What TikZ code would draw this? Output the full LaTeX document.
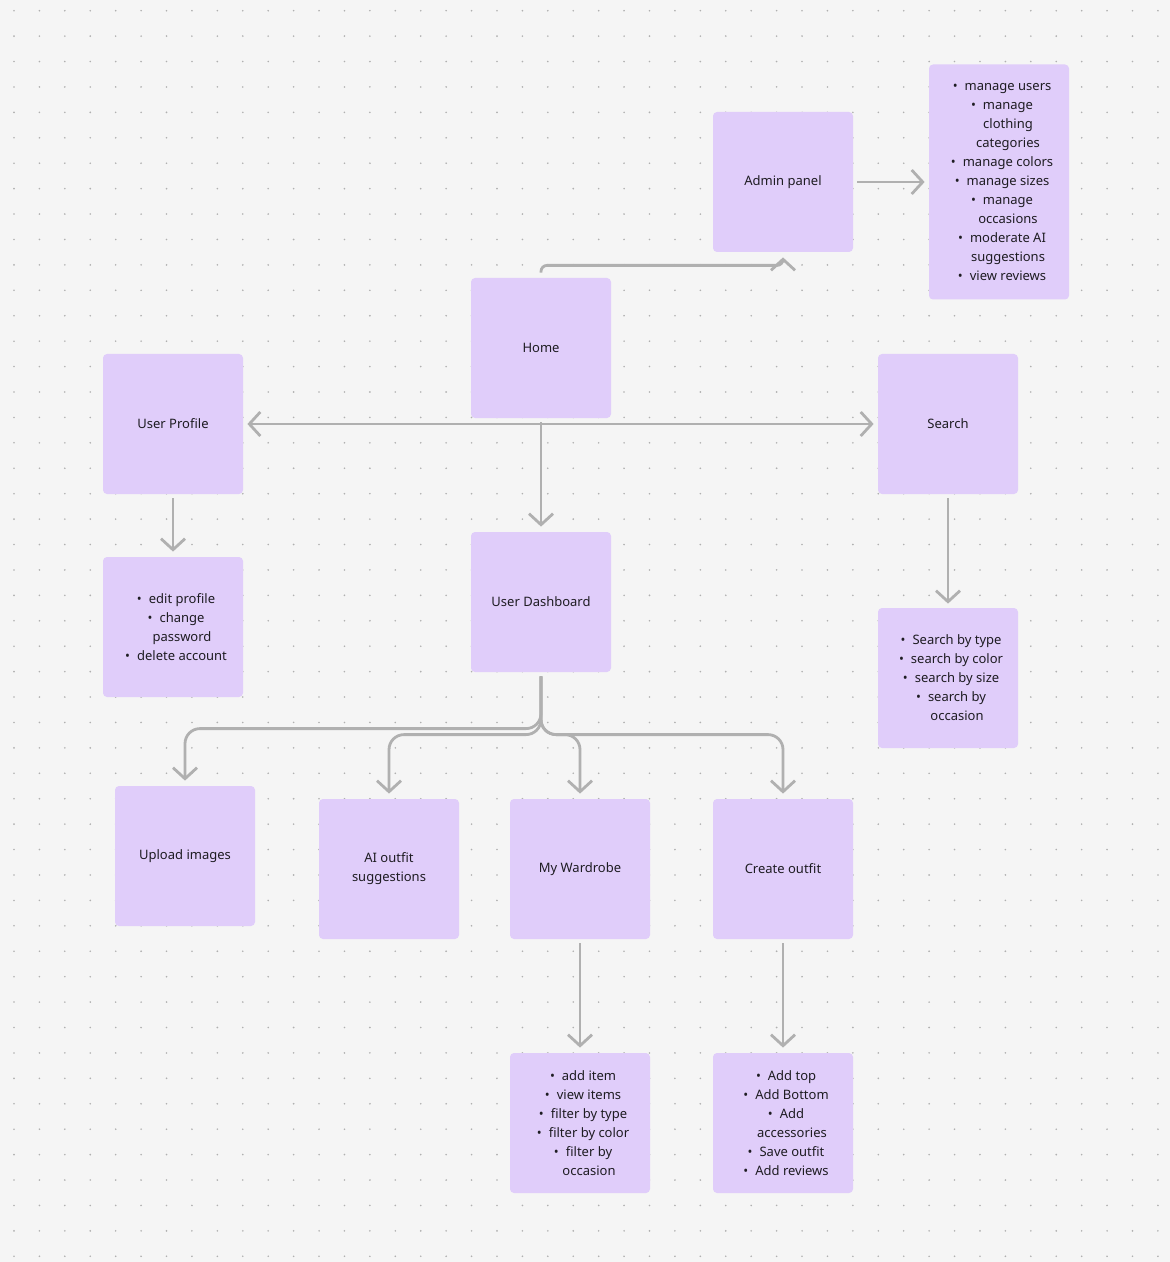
\documentclass[tikz,border=0pt]{standalone}
\usepackage{fontspec}
\setmainfont{Noto Sans}
\usetikzlibrary{positioning,arrows.meta}
\definecolor{bgc}{RGB}{245,245,245}
\definecolor{dotc}{RGB}{176,176,176}
\definecolor{boxc}{RGB}{224,205,250}
\definecolor{linec}{RGB}{176,176,176}
\definecolor{txtc}{RGB}{30,28,34}
\newcommand{\bul}{\hspace*{9pt}\llap{\textbullet\hspace{3.5pt}}}
\newcommand{\wrp}{\hspace*{9pt}}
\tikzset{>={Straight Barb[length=5.5pt,width=12pt]}}
\tikzset{
  card/.style={fill=boxc,rounded corners=2pt,minimum width=70pt,minimum height=70pt,
    align=center,inner sep=0pt,text=txtc,font=\fontsize{6.5}{9.5}\selectfont,
    execute at begin node={\vspace*{2pt}}},
  conn/.style={->,draw=linec,line width=1.4pt,rounded corners=7.5pt}
}

\begin{document}
\begin{tikzpicture}[x=0.5pt,y=-0.5pt,on grid]
    \useasboundingbox[fill=bgc] (0,0) rectangle (1170,1262);
    \foreach \i in {0,...,45}
      \foreach \j in {0,...,49}
        \fill[dotc] (14+\i*25.42,10.7+\j*25.42) circle (0.45pt);

    \node[card] (home) at (541,348) {Home};
    \node[card] (admin) [above right=83pt and 121pt of home] {Admin panel};
    \node[card,minimum height=117.5pt] (adminlist) [right=108pt of admin]
      {\bul manage users\\ \bul manage\\ \wrp clothing\\ \wrp categories\\ \bul manage colors\\
       \bul manage sizes\\ \bul manage\\ \wrp occasions\\ \bul moderate AI\\ \wrp suggestions\\ \bul view reviews};
    \node[card] (profile) [below left=38pt and 184pt of home] {User Profile};
    \node[card] (search) [below right=38pt and 203.5pt of home] {Search};
    \node[card] (profilelist) [below=101.5pt of profile]
      {\bul edit profile\\ \bul change\\ \wrp password\\ \bul delete account};
    \node[card] (searchlist) [below=127pt of search]
      {\bul Search by type\\ \bul search by color\\ \bul search by size\\ \bul search by\\ \wrp occasion};
    \node[card] (dash) [below=127pt of home] {User Dashboard};
    \node[card] (upload) [below left=127pt and 178pt of dash] {Upload images};
    \node[card] (aiout) [below left=133.5pt and 76pt of dash] {AI outfit\\ suggestions};
    \node[card] (wardrobe) [below right=133.5pt and 19.5pt of dash] {My Wardrobe};
    \node[card] (create) [below right=133.5pt and 121pt of dash] {Create outfit};
    \node[card] (wardrobelist) [below=127pt of wardrobe]
      {\bul add item\\ \bul view items\\ \bul filter by type\\ \bul filter by color\\ \bul filter by\\ \wrp occasion};
    \node[card] (createlist) [below=127pt of create]
      {\bul Add top\\ \bul Add Bottom\\ \bul Add\\ \wrp accessories\\ \bul Save outfit\\ \bul Add reviews};

    \coordinate (hub) at (home.south |- profile.east);
    \draw[conn,rounded corners=3pt] ([yshift=2.5pt]home.north) |- ([yshift=-6.5pt]admin.south)
      [sharp corners] -- ([yshift=-2.5pt]admin.south);
    \draw[conn] ([xshift=2pt]admin.east) -- ([xshift=-2pt]adminlist.west);
    \draw[conn] (hub) -- ([xshift=2pt]profile.east);
    \draw[conn] (hub) -- ([xshift=-2pt]search.west);
    \draw[conn] ([yshift=-2pt]home.south) -- ([yshift=2.5pt]dash.north);
    \draw[conn] ([yshift=-2pt]profile.south) -- ([yshift=2.5pt]profilelist.north);
    \draw[conn] ([yshift=-2pt]search.south) -- ([yshift=2pt]searchlist.north);
    \draw[conn] ([yshift=-2pt]dash.south) |- ([yshift=28.5pt]upload.north) -- ([yshift=2.5pt]upload.north);
    \draw[conn] ([yshift=-2pt]dash.south) |- ([yshift=32pt]aiout.north) -- ([yshift=2.5pt]aiout.north);
    \draw[conn] ([yshift=-2pt]dash.south) |- ([yshift=32pt]wardrobe.north) -- ([yshift=2.5pt]wardrobe.north);
    \draw[conn] ([yshift=-2pt]dash.south) |- ([yshift=32pt]create.north) -- ([yshift=2.5pt]create.north);
    \draw[conn] ([yshift=-2pt]wardrobe.south) -- ([yshift=2.5pt]wardrobelist.north);
    \draw[conn] ([yshift=-2pt]create.south) -- ([yshift=2.5pt]createlist.north);
\end{tikzpicture}
\end{document}
